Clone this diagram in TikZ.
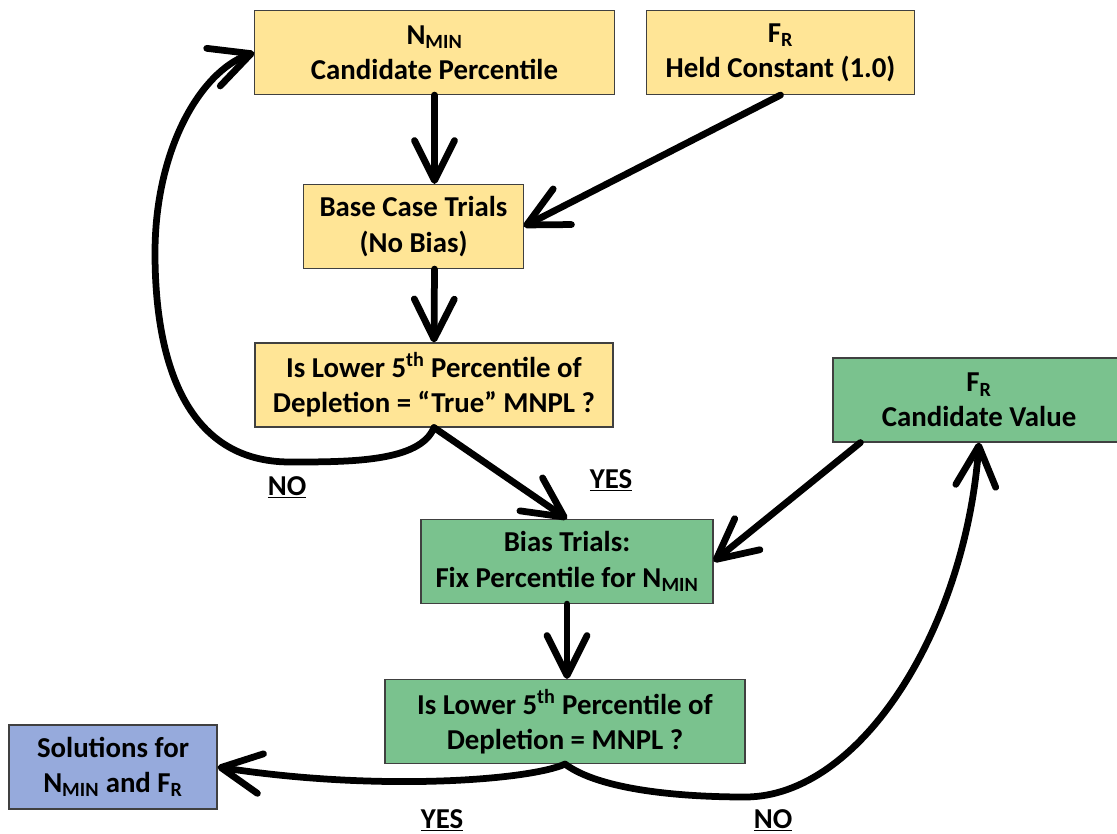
\documentclass[tikz,border=0pt]{standalone}
\usepackage{fontspec}
\setmainfont{Carlito}
\usetikzlibrary{arrows.meta}
\definecolor{boxyellow}{RGB}{255,229,150}
\definecolor{boxgreen}{RGB}{122,194,142}
\definecolor{boxblue}{RGB}{150,170,220}
\newcommand{\Nmin}{N\textsubscript{MIN}}
\newcommand{\Fr}{F\textsubscript{R}}
\begin{document}
\begin{tikzpicture}[x=0.025cm,y=-0.025cm,
  font=\fontsize{20.5}{25}\selectfont\bfseries,
  flowbox/.style={draw=black!75,line width=0.8pt,align=center,minimum height=2.1cm,inner sep=2pt},
  flow/.style={line width=4.8pt,line cap=round,-{Straight Barb[length=10mm,width=10mm,round]}},
  answer/.style={anchor=base}]

 \useasboundingbox (0,0) rectangle (1117,834);

 % boxes of the base case (yellow)
 \node[flowbox,fill=boxyellow,minimum width=8.98cm] (nmin) at (434.5,52.5) {\Nmin\\Candidate Percentile};
 \node[flowbox,fill=boxyellow,minimum width=6.68cm] (frh) at (780.5,52.5) {\Fr\\Held Constant (1.0)};
 \node[flowbox,fill=boxyellow,minimum width=5.48cm] (base) at (413.5,226.5) {Base Case Trials\\(No Bias)};
 \node[flowbox,fill=boxyellow,minimum width=8.95cm] (yl) at (434,385) {Is Lower 5\textsuperscript{th} Percentile of\\Depletion = “True” MNPL ?};

 % boxes of the bias trials (green)
 \node[flowbox,fill=boxgreen,minimum width=7.3cm] (fc) at (979,400) {\Fr\\Candidate Value};
 \node[flowbox,fill=boxgreen,minimum width=7.3cm] (bias) at (567,561.5) {Bias Trials:\\Fix Percentile for \Nmin};
 \node[flowbox,fill=boxgreen,minimum width=9cm] (gl) at (565,721.5) {Is Lower 5\textsuperscript{th} Percentile of\\Depletion = MNPL ?};
 \node[flowbox,fill=boxblue,minimum width=5.2cm] (sol) at (113,767) {Solutions for\\\Nmin{} and \Fr};

 \draw[flow] (nmin) -- (base.north -| nmin);
 \draw[flow] (frh.south) -- (base.east);
 \draw[flow] (base.south -| nmin) -- (yl.north);
 \draw[flow] (yl.south) -- (bias.north);
 \draw[flow] (yl.south) .. controls (420,462) and (350,462) .. (290,462)
   .. controls (185,462) and (155,360) .. (155,253)
   .. controls (155,150) and (200,72) .. (nmin.west);

 \draw[flow] ([xshift=0.7cm]fc.south west) -- (bias.east);
 \draw[flow] (bias.south) -- (bias.south |- gl.north);
 \draw[flow] (gl.south) .. controls (530,780) and (380,792) .. (sol.east);
 \draw[flow] (gl.south) .. controls (600,790) and (680,797) .. (745,797)
   .. controls (860,797) and (965,630) .. (fc.south);

 % answers
 \node[answer] (noA) at (287,495) {\underline{NO}};
 \node[answer] (yesA) at (611,488) {\underline{YES}};
 \node[answer] (yesB) at (442,828) {\underline{YES}};
 \node[answer] (noB) at (773,828) {\underline{NO}};

\end{tikzpicture}
\end{document}
